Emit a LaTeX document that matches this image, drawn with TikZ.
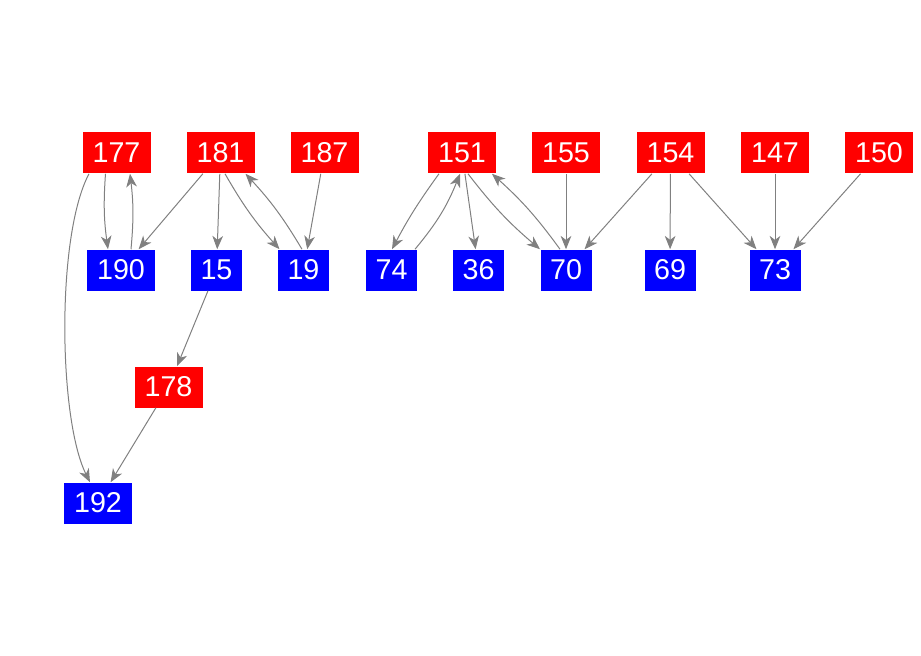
\documentclass[tikz,border=0pt]{standalone}
\usepackage{fontspec}
\setmainfont{Liberation Sans}
\usetikzlibrary{arrows.meta, calc}

\begin{document}
\begin{tikzpicture}[x=0.75pt, y=0.75pt,
  vtx/.style={rectangle, inner sep=0pt, minimum height=30.75pt,
              font=\fontsize{21.5}{24}\selectfont, text=white},
  rednode/.style={vtx, fill=red, minimum width=51pt},
  bluenode/.style={vtx, fill=blue, minimum width=#1},
  bluenode/.default=38.25pt,
  edge/.style={draw=gray, line width=0.75pt,
               -{Stealth[length=10pt, width=8pt, inset=3pt]}}
]
  \useasboundingbox (0,0) rectangle (921,-656);

  % upper row
  \node[rednode] (n177) at (116.5,-153) {177};
  \node[rednode] (n181) at (220.5,-153) {181};
  \node[rednode] (n187) at (324.5,-153) {187};
  \node[rednode] (n151) at (462,-153)   {151};
  \node[rednode] (n155) at (566,-153)   {155};
  \node[rednode] (n154) at (670.5,-153) {154};
  \node[rednode] (n147) at (775,-153)   {147};
  \node[rednode] (n150) at (879,-153)   {150};

  % lower row
  \node[bluenode=51pt] (n190) at (121,-270) {190};
  \node[bluenode] (n15) at (216.5,-270) {15};
  \node[bluenode] (n19) at (303.5,-270) {19};
  \node[bluenode] (n74) at (391.5,-270) {74};
  \node[bluenode] (n36) at (478.5,-270) {36};
  \node[bluenode] (n70) at (566,-270)   {70};
  \node[bluenode] (n69) at (670,-270)   {69};
  \node[bluenode] (n73) at (775,-270)   {73};

  % chain below
  \node[rednode] (n178) at (168.5,-387) {178};
  \node[bluenode=51pt] (n192) at (98,-503) {192};

  % straight edges
  \foreach \a/\b in {181/190, 181/15, 187/19, 15/178, 178/192, 151/36,
                     155/70, 154/70, 154/69, 154/73, 147/73, 150/73}
    \draw[edge] (n\a) -- (n\b);

  % mutual pairs
  \draw[edge] ($(n177.south)+(-11,0)$) to[bend right=6] ($(n190.north)+(-13,0)$);
  \draw[edge] ($(n190.north)+(10,0)$) to[bend right=6] ($(n177.south)+(13.5,0)$);
  \draw[edge] ($(n181.south)+(4.5,0)$) to[bend right=6] ($(n19.north)+(-24,0)$);
  \draw[edge] ($(n19.north)+(-1.5,0)$) to[bend right=6] ($(n181.south)+(25,0)$);
  \draw[edge] ($(n151.south)+(-23,0)$) to[bend right=4] ($(n74.north)+(0.5,0)$);
  \draw[edge] ($(n74.north)+(23.5,0)$) to[bend right=9] ($(n151.south)+(-2,0)$);
  \draw[edge] ($(n151.south)+(6,0)$) to[bend right=6] ($(n70.north)+(-26,0)$);
  \draw[edge] ($(n70.north)+(-6,0)$) to[bend right=6] ($(n151.south)+(30,0)$);

  % long edge on the left
  \draw[edge] ($(n177.south)+(-27.5,0)$) .. controls +(-33,-62) and +(-31.5,63)
    .. ($(n192.north)+(-8,0)$);
\end{tikzpicture}
\end{document}
